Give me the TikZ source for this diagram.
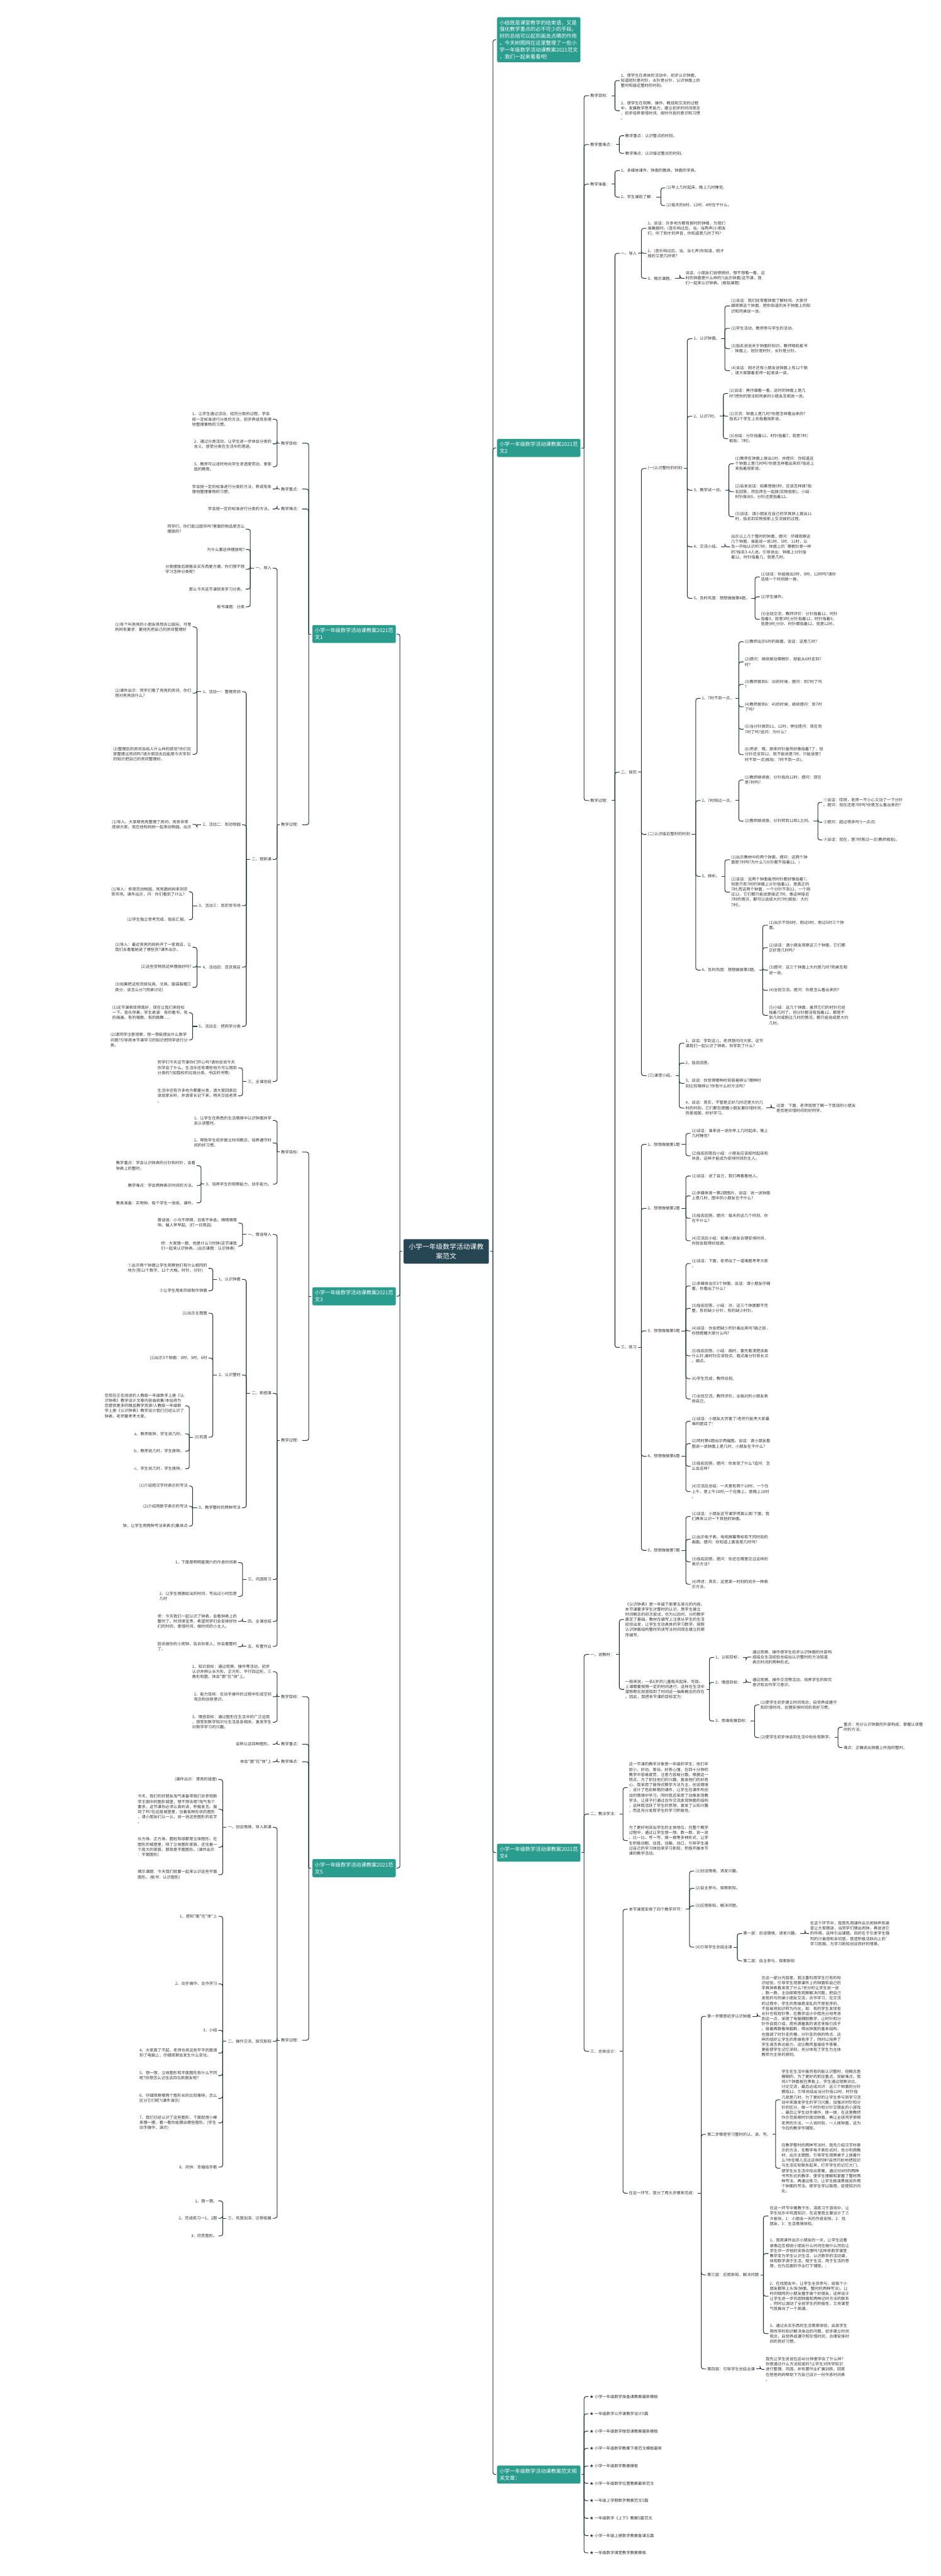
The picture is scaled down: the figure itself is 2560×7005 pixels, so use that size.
\documentclass[tikz,border=0pt]{standalone}
\usepackage{fontspec}
\newfontfamily\cjk{Noto Sans CJK SC}
\definecolor{tealc}{HTML}{2A9D8F}
\definecolor{rootc}{HTML}{264653}
\definecolor{linec}{HTML}{1F3844}
\definecolor{txtc}{HTML}{333333}
\tikzset{
 conn/.style={draw=linec,line width=1.8pt},
 txt/.style={font=\cjk\fontsize{10.8}{14}\selectfont,text=txtc,align=left,inner sep=1pt},
 rt/.style={txt,anchor=west},
 lt/.style={txt,anchor=east},
 tbox/.style={fill=tealc,text=white,rounded corners=3pt,font=\cjk\fontsize{14}{18.5}\selectfont,align=left,text width=213pt,inner xsep=7pt,inner ysep=5pt,minimum height=49pt},
 rootbox/.style={fill=rootc,text=white,rounded corners=3pt,font=\cjk\fontsize{18.5}{25}\selectfont,align=center,minimum width=232pt,minimum height=67pt,inner sep=4pt}
}
\newcommand\Rto[3]{%
 \draw[conn] ([xshift=3pt]#1.east) -- (#1.east -| #2,0);
 \foreach \c in {#3}{\draw[conn,rounded corners=6pt] (#1.east -| #2,0) |- ([xshift=-2pt]\c.west);}}
\newcommand\Lto[3]{%
 \draw[conn] ([xshift=-3pt]#1.west) -- (#1.west -| #2,0);
 \foreach \c in {#3}{\draw[conn,rounded corners=6pt] (#1.west -| #2,0) |- ([xshift=2pt]\c.east);}}
\begin{document}
\begin{tikzpicture}[x=1pt,y=-1pt]
\fill[white] (0,0) rectangle (2560,7005);
\useasboundingbox (0,0) rectangle (2560,7005);
% ---------- root and main branches
\node[rootbox] (root) at (1214,3403) {小学一年级数学活动课教\\案范文};
\node[tbox,anchor=west,minimum height=122pt] (R0) at (1352,108) {小结既是课堂教学的结束语，又是\\强化教学重点的必不可少的手段。\\好的总结可以起到画龙点睛的作用\\。今天树图网在这里整理了一些小\\学一年级数学活动课教案2021范文\\，我们一起来看看吧!};
\node[tbox,anchor=west] (A) at (1352,1218) {小学一年级数学活动课教案2021范\\文2};
\node[tbox,anchor=west] (B) at (1352,5038) {小学一年级数学活动课教案2021范\\文4};
\node[tbox,anchor=west] (C) at (1352,6729) {小学一年级数学活动课教案范文相\\关文章：};
\node[tbox,anchor=east] (L1) at (1077,1724) {小学一年级数学活动课教案2021范\\文1};
\node[tbox,anchor=east] (L3) at (1077,3525) {小学一年级数学活动课教案2021范\\文3};
\node[tbox,anchor=east] (L5) at (1077,5080) {小学一年级数学活动课教案2021范\\文5};
\Rto{root}{1341}{R0,A,B,C}
\Lto{root}{1088}{L1,L3,L5}
% ---------- 范文2
\node[rt] (A1) at (1605,260) {教学目标：};
\node[rt] (A2) at (1605,393) {教学重难点：};
\node[rt] (A3) at (1605,501) {教学准备：};
\node[rt] (A4) at (1605,2177) {教学过程：};
\Rto{A}{1589}{A1,A2,A3,A4}
\node[rt] (A1a) at (1688,219) {1、使学生在具体的活动中，初步认识钟面，\\知道短针是时针，长针是分针，认识钟面上的\\整时和接近整时的时刻。};
\node[rt] (A1b) at (1688,301) {2、使学生在观察、操作、概括和交流的过程\\中，发展数学思考能力，建立初步的时间观念\\，初步培养爱惜时间、按时作息的意识和习惯\\。};
\Rto{A1}{1673}{A1a,A1b}
\node[rt] (A2a) at (1700,369) {教学重点：认识整点的时刻。};
\node[rt] (A2b) at (1700,417) {教学难点：认识接近整点的时刻。};
\Rto{A2}{1685}{A2a,A2b}
\node[rt] (A3a) at (1688,464) {1、多媒体课件，钟面的教具，钟面的学具。};
\node[rt] (A3b) at (1688,536) {2、学生课前了解：};
\Rto{A3}{1673}{A3a,A3b}
\node[rt] (A3b1) at (1812,511) {(1)早上几时起床，晚上几时睡觉。};
\node[rt] (A3b2) at (1812,559) {(2)每天的8时、12时、4时在干什么。};
\Rto{A3b}{1798}{A3b1,A3b2}
\node[rt] (P1) at (1688,689) {一、导入};
\node[rt] (P2) at (1688,2100) {二、探究};
\node[rt] (P3) at (1688,3664) {三、练习};
\Rto{A4}{1673}{P1,P2,P3}
\node[rt] (P1a) at (1761,621) {1、谈话：许多地方都有报时的钟楼，为我们\\准确报时。(音乐响过后，当、当两声)小朋友\\们，听了刚才的声音，你知道是几时了吗?};
\node[rt] (P1b) at (1761,689) {2、(音乐响过后，当、当七声)你知道，刚才\\报的又是几时呢?};
\node[rt] (P1c) at (1761,757) {3、揭示课题。};
\Rto{P1}{1745}{P1a,P1b,P1c}
\node[rt] (P1c1) at (1864,757) {谈话：小朋友们说得很好。想不想看一看，这\\时的钟面是什么样的?(出示钟面)这节课，我\\们一起来认识钟表。(板贴课题)};
\Rto{P1c}{1850}{P1c1}
\node[rt] (Q1) at (1761,1274) {(一)认识整时的时刻};
\node[rt] (Q2) at (1761,2269) {(二)认识接近整时的时刻};
\node[rt] (Q3) at (1761,2925) {(三)课堂小结。};
\Rto{P2}{1745}{Q1,Q2,Q3}
\node[rt] (Q1a) at (1886,921) {1、认识钟面。};
\node[rt] (Q1b) at (1886,1132) {2、认识7时。};
\node[rt] (Q1c) at (1886,1333) {3、教学试一试。};
\node[rt] (Q1d) at (1886,1487) {4、交流小结。};
\node[rt] (Q1e) at (1886,1627) {5、及时巩固：想想做做第4题。};
\Rto{Q1}{1870}{Q1a,Q1b,Q1c,Q1d,Q1e}
\node[rt] (Q1a1) at (1988,832) {(1)谈话：我们经常看钟面了解时间。大家仔\\细观察这个钟面，把你知道的关于钟面上的知\\识和同桌说一说。};
\node[rt] (Q1a2) at (1988,893) {(2)学生活动，教师参与学生的活动。};
\node[rt] (Q1a3) at (1988,948) {(3)指名说说关于钟面的知识。教师相机板书\\：钟面上，短针是时针，长针是分针。};
\node[rt] (Q1a4) at (1988,1008) {(4)谈话：刚才还有小朋友说钟面上有12个数\\，请大家跟着老师一起来读一读。};
\Rto{Q1a}{1972}{Q1a1,Q1a2,Q1a3,Q1a4}
\node[rt] (Q1b1) at (1983,1070) {(1)谈话：再仔细看一看，这时的钟面上是几\\时?把你的想法和同桌的小朋友互相说一说。};
\node[rt] (Q1b2) at (1983,1132) {(2)交流：钟面上是几时?你是怎样看出来的?\\指名2个学生上去指着投影说。};
\node[rt] (Q1b3) at (1983,1193) {(3)总结：分针指着12，时针指着7，就是7时(\\板贴：7时)。};
\Rto{Q1b}{1968}{Q1b1,Q1b2,Q1b3}
\node[rt] (Q1c1) at (1999,1261) {(1)教师在钟面上拨出1时，并提问：你知道这\\个钟面上是几时吗?你是怎样看出来的?指名上\\来指着投影说。};
\node[rt] (Q1c2) at (1999,1337) {(2)启发谈话：如果想拨5时，应该怎样拨?指\\名回答。然后师生一起拨(实物投影)。小结：\\时针拨向5，分针还是指着12。};
\node[rt] (Q1c3) at (1999,1405) {(3)谈话：请小朋友在自己的学具钟上拨出11\\时，指名到实物投影上交流拨的过程。};
\Rto{Q1c}{1983}{Q1c1,Q1c2,Q1c3}
\node[rt] (Q1d1) at (1988,1487) {出示以上几个整时的钟面，提问：仔细观察这\\几个钟面，谁能说一说1时、5时、11时，以\\及一开始认识的7时，钟面上的\symbol{96}哪根针是一样\\的?指名3-4人说。引导说出：钟面上分针指\\着12，时针指着几，就是几时。};
\Rto{Q1d}{1972}{Q1d1}
\node[rt] (Q1e1) at (2069,1569) {(1)谈话：你能拨出3时、9时、12时吗?请你\\选择一个时刻拨一拨。};
\node[rt] (Q1e2) at (2069,1623) {(2)学生操作。};
\node[rt] (Q1e3) at (2069,1684) {(3)全班交流，教师评价：分针指着12，时针\\指着3，就是3时;分针指着12，时针指着9，\\就是9时;分针、时针都指着12，就是12时。};
\Rto{Q1e}{2054}{Q1e1,Q1e2,Q1e3}
\node[rt] (Q2a) at (1908,1899) {1、7时不到一点。};
\node[rt] (Q2b) at (1908,2177) {2、7时刚过一点。};
\node[rt] (Q2c) at (1908,2383) {3、辨析。};
\node[rt] (Q2d) at (1908,2638) {4、及时巩固：想想做做第3题。};
\Rto{Q2}{1893}{Q2a,Q2b,Q2c,Q2d}
\node[rt] (Q2a1) at (2025,1745) {(1)教师出示6时的画面。谈话：这是几时?};
\node[rt] (Q2a2) at (2025,1800) {(2)提问：继续拨动哪根针，就能从6时走到7\\时?};
\node[rt] (Q2a3) at (2025,1861) {(3)教师拨到6：30的时候，提问：到7时了吗\\?};
\node[rt] (Q2a4) at (2025,1922) {(4)教师拨到6：45的时候，继续提问：到7时\\了吗?};
\node[rt] (Q2a5) at (2025,1983) {(5)当分针拨到11、12时，停住提问：现在到\\7时了吗?追问：为什么?};
\node[rt] (Q2a6) at (2025,2052) {(6)师述：哦，原来时针虽然好像指着7了，但\\分针还没到12，就不能说是7时，只能说是7\\时不到一点(板贴：7时不到一点)。};
\Rto{Q2a}{2010}{Q2a1,Q2a2,Q2a3,Q2a4,Q2a5,Q2a6}
\node[rt] (Q2b1) at (2025,2121) {(1)教师继续拨，分针指向12时，提问：现在\\是7时吗?};
\node[rt] (Q2b2) at (2025,2233) {(2)教师继续拨，分针转到12和1之间。};
\Rto{Q2b}{2010}{Q2b1,Q2b2}
\node[rt] (Q2b2a) at (2239,2182) {①谈话：哎呀，老师一不小心又动了一下分针\\。提问：现在还是7时吗?你是怎么看出来的?};
\node[rt] (Q2b2b) at (2239,2236) {②提问：超过得多吗?(一点点)};
\node[rt] (Q2b2c) at (2239,2284) {③谈话：现在，是7时刚过一点(教师板贴)。};
\Rto{Q2b2}{2225}{Q2b2a,Q2b2b,Q2b2c}
\node[rt] (Q2c1) at (1988,2338) {(1)出示教材中的两个钟面，提问：这两个钟\\面是7时吗?为什么?(分针都不指着12。)};
\node[rt] (Q2c2) at (1988,2426) {(2)谈话：这两个钟面虽然时针都好像指着7，\\但是只有7时的钟面上分针指着12，是真正的\\7时;而这两个钟面，一个分针不到12，一个刚\\过12，它们都只能说是接近7时。像这样接近\\7时的情况，都可以说成大约7时(板贴：大约\\7时)。};
\Rto{Q2c}{1972}{Q2c1,Q2c2}
\node[rt] (Q2d1) at (2091,2516) {(1)出示不到8时、刚过9时、刚过5时三个钟\\面。};
\node[rt] (Q2d2) at (2091,2577) {(2)谈话：请小朋友观察这三个钟面，它们都\\正好是几时吗?};
\node[rt] (Q2d3) at (2091,2638) {(3)提问：这三个钟面上大约是几时?同桌互相\\说一说。};
\node[rt] (Q2d4) at (2091,2693) {(4)全班交流。提问：你是怎么看出来的?};
\node[rt] (Q2d5) at (2091,2761) {(5)小结：这几个钟面，虽然它们的时针已经\\指着几时了，但分针都没有指着12，都是不\\到几时或刚过几时的情况，都只能说成是大约\\几时。};
\Rto{Q2d}{2075}{Q2d1,Q2d2,Q2d3,Q2d4,Q2d5}
\node[rt] (Q3a) at (1864,2837) {1、谈话：学到这儿，老师想问问大家，这节\\课我们一起认识了钟表。你学到了什么?};
\node[rt] (Q3b) at (1864,2891) {2、指名回答。};
\node[rt] (Q3c) at (1864,2946) {3、谈话：你觉得哪种时刻容易辨认?哪种时\\刻比较难辨认?你有什么好方法吗?};
\node[rt] (Q3d) at (1864,3013) {4、谈话：其实，不管是正好几时还是大约几\\时的时刻，它们都在提醒小朋友要珍惜时间，\\热爱祖国，好好学习。};
\Rto{Q3}{1848}{Q3a,Q3b,Q3c,Q3d}
\node[rt] (Q3d1) at (2111,3013) {过渡：下面，老师就想了解一下我班的小朋友\\是否是珍惜时间的好同学。};
\Rto{Q3d}{2098}{Q3d1}
\node[rt] (S1) at (1761,3112) {1、想想做做第1题};
\node[rt] (S2) at (1761,3286) {2、想想做做第2题};
\node[rt] (S3) at (1761,3619) {3、想想做做第5题};
\node[rt] (S4) at (1761,3960) {4、想想做做第6题};
\node[rt] (S5) at (1761,4216) {5、想想做做第7题};
\Rto{P3}{1745}{S1,S2,S3,S4,S5}
\node[rt] (S1a) at (1881,3082) {(1)谈话：谁来说一说你早上几时起床，晚上\\几时睡觉?};
\node[rt] (S1b) at (1881,3143) {(2)指名回答后小结：小朋友应该按时起床和\\休息，这样才能成为安排时间的主人。};
\Rto{S1}{1866}{S1a,S1b}
\node[rt] (S2a) at (1881,3198) {(1)谈话：说了自己，我们再看看他人。};
\node[rt] (S2b) at (1881,3252) {(2)多媒体逐一第2题图片。谈话：说一说钟面\\上是几时，图中的小朋友在干什么?};
\node[rt] (S2c) at (1881,3313) {(3)指名回答。提问：每天的这几个时刻，你\\在干什么?};
\node[rt] (S2d) at (1881,3374) {(4)交流后小结：如果小朋友合理安排时间，\\你就会取得好成绩。};
\Rto{S2}{1866}{S2a,S2b,S2c,S2d}
\node[rt] (S3a) at (1881,3436) {(1)谈话：下面，老师出了一道难题考考大家\\。};
\node[rt] (S3b) at (1881,3497) {(2)多媒体出示3个钟面。谈话：请小朋友仔细\\看，你看出了什么?};
\node[rt] (S3c) at (1881,3558) {(3)指名回答。小结：对，这三个钟面都不完\\整，有的缺少分针，有的缺少时针。};
\node[rt] (S3d) at (1881,3619) {(4)谈话：你会把缺少的针画出来吗?画之前，\\你想提醒大家什么吗?};
\node[rt] (S3e) at (1881,3687) {(5)指名回答。小结：画时，要先看清楚该画\\什么针;画时针应该短点、粗点画分针就长点\\、细点。};
\node[rt] (S3f) at (1881,3749) {(6)学生完成，教师巡视。};
\node[rt] (S3g) at (1881,3804) {(7)全班交流，教师评价，全画对的小朋友表\\扬自己。};
\Rto{S3}{1866}{S3a,S3b,S3c,S3d,S3e,S3f,S3g}
\node[rt] (S4a) at (1881,3865) {(1)谈话：小朋友太厉害了!老师只能考大家最\\难的题目了!};
\node[rt] (S4b) at (1881,3926) {(2)同时第6题出示两幅图。谈话：请小朋友看\\图说一说钟面上是几时，小朋友在干什么?};
\node[rt] (S4c) at (1881,3987) {(3)指名回答。提问：你发现了什么?追问：怎\\么会这样?};
\node[rt] (S4d) at (1881,4056) {(4)交流后总结：一天里有两个10时，一个在\\上午，是上午10时;一个在晚上，是晚上10时\\。};
\Rto{S4}{1866}{S4a,S4b,S4c,S4d}
\node[rt] (S5a) at (1881,4124) {(1)谈话：小朋友这节课学得真认真!下面，我\\们再来认识一下其他的钟面。};
\node[rt] (S5b) at (1881,4186) {(2)出示电子表、电视屏幕等标有不同时刻的\\画面。提问：你知道上面各是几时吗?};
\node[rt] (S5c) at (1881,4247) {(3)指名回答。提问：你还在哪里见过这样的\\表示方法?};
\node[rt] (S5d) at (1881,4308) {(4)师述：其实，这是某一时刻的另外一种表\\示方法。};
\Rto{S5}{1866}{S5a,S5b,S5c,S5d}
% ---------- 范文4
\node[rt] (B1) at (1605,4499) {一、说教材：};
\node[rt] (B2) at (1605,4933) {二、教法学法：};
\node[rt] (B3) at (1605,5578) {三、总体设计：};
\Rto{B}{1589}{B1,B2,B3}
\node[rt] (B1a) at (1700,4404) {《认识钟表》是一年级下册第五单元的内容。\\本节课要求学生对整时的认识，是学生建立\\时间概念的初次尝试，也为以后时、分的教学\\奠定了基础。教材在编写上注意从学生的生活\\经验出发，让学生生动具体的学习数学。按照\\认识钟面结构整时的读写法时间观念建立的顺\\序编写。};
\node[rt] (B1b) at (1700,4594) {一般来说，一名6岁的儿童每天起床、吃饭、\\上课都要按照一定的时间进行，这样在生活中\\潜移默化就感知到了时间这一抽象概念的存在\\。因此，我把本节课的目标定为：};
\Rto{B1}{1685}{B1a,B1b}
\node[rt] (B1b1) at (1945,4507) {1、认知目标：};
\node[rt] (B1b2) at (1945,4575) {2、情感目标：};
\node[rt] (B1b3) at (1945,4680) {3、思维拓展目标：};
\Rto{B1b}{1930}{B1b1,B1b2,B1b3}
\node[rt] (B1b1a) at (2046,4506) {通过观察、操作使学生初步认识钟面的外部构\\成结合生活经验总结出认识整时的方法知道\\表示时间的两种形式。};
\Rto{B1b1}{2030}{B1b1a}
\node[rt] (B1b2a) at (2046,4575) {通过观察、操作交流等活动，培养学生的探究\\意识和合作学习意识。};
\Rto{B1b2}{2030}{B1b2a}
\node[rt] (B1b3a) at (2068,4636) {(1)使学生初步建立时间观念，自觉养成遵守\\和珍惜时间、合理安排时间的良好习惯。};
\node[rt] (B1b3b) at (2068,4725) {(2)使学生初步体会到生活中处处有数学。};
\Rto{B1b3}{2053}{B1b3a,B1b3b}
\node[rt] (B1b3b1) at (2294,4697) {重点：充分认识钟面的外部构成，掌握认读整\\时的方法;};
\node[rt] (B1b3b2) at (2294,4752) {难点：正确说出钟面上所指的整时。};
\Rto{B1b3b}{2280}{B1b3b1,B1b3b2}
\node[rt] (B2a) at (1710,4861) {这一节课的教学对象是一年级的学生，他们年\\龄小、好动、爱玩、好奇心强，在四十分钟的\\教学中容易疲劳，注意力容易分散。根据这一\\特点，为了抓住他们的兴趣，激发他们的好奇\\心，我采用了愉快式教学方法为主，创设情境\\，设计了色彩鲜艳的课件，让学生在课件所创\\设的情境中学习。同时我还采用了动像发现教\\学法，让孩子们通过合作交流发现钟面的结构\\，这样既活跃了学生的思想，激发了认知兴趣\\，而且充分发挥学生的学习积极性。};
\node[rt] (B2b) at (1710,5005) {为了更好地突出学生的主体地位，在整个教学\\过程中，通过让学生想一想、数一数、说一说\\、比一比、写一写、拨一拨等多种形式，让学\\生积极动眼、动耳、动脑、动口，引导学生通\\过自己的学习体验来学习新知，积极开展本节\\课的教学活动。};
\Rto{B2}{1695}{B2a,B2b}
\node[rt] (B3a) at (1710,5192) {本节课我安排了四个教学环节：};
\node[rt] (B3b) at (1710,5964) {在这一环节，我分了两大步骤来完成：};
\Rto{B3}{1695}{B3a,B3b}
\node[rt] (B3a1) at (1891,5088) {(1)创设情境，诱发兴趣。};
\node[rt] (B3a2) at (1891,5135) {(2)自主参与，探索新知。};
\node[rt] (B3a3) at (1891,5183) {(3)应用新知，解决问题。};
\node[rt] (B3a4) at (1891,5295) {(4)引导学生总结全课};
\Rto{B3a}{1876}{B3a1,B3a2,B3a3,B3a4}
\node[rt] (B3a4a) at (2021,5258) {第一层：创设情境，诱发兴趣。};
\node[rt] (B3a4b) at (2021,5332) {第二层：自主参与，探索新知};
\Rto{B3a4}{2006}{B3a4a,B3a4b}
\node[rt] (B3a4a1) at (2203,5258) {在这个环节中，我首先用课件出示闹钟声和录\\音让大家猜谜，当同学们猜出闹钟，再说说它\\的作用。这样引出课题。目的在于引发学生强\\烈的兴奋感和亲切感，营造积极活跃向上的\symbol{96}\\学习氛围，为学习新知创设良好的情景。};
\Rto{B3a4a}{2190}{B3a4a1}
\node[rt] (B3b1) at (1923,5483) {第一步骤是初步认识钟面};
\node[rt] (B3b2) at (1923,5804) {第二步骤是学习整时的认、读、写。};
\node[rt] (B3b3) at (1923,6186) {第三层：应用新知，解决问题};
\node[rt] (B3b4) at (1923,6442) {第四层：引导学生总结全课};
\Rto{B3b}{1908}{B3b1,B3b2,B3b3,B3b4}
\node[rt] (B3b1a) at (2071,5483) {在这一部分内容里，我注重利用学生已有的知\\识经验，引导学生观察课件上的钟面和自己的\\学具钟表看发现了什么?充分的让学生说一说\\，数一数，主动探索性观察解决问题，把自己\\发现的与同桌小朋友交流，合作学习，在交流\\的过程中，学生的思维是凌乱的不是有序的，\\不容易将知识转为内化，如：有的学生发现有\\长针也有短针等，在教学设计中我充分地考虑\\到这一点，采用了电脑辅助教学，让时针和分\\针作自我介绍，用充满童真的语言来吸引孩子\\。接着再跟着电脑数，得出钟面的基本结构，\\也强调了时针走的慢，分针走的快的特点，这\\样的组织让学生的思维有序了，同时以培养了\\学生语言表达能力，这比教师直接给予答案，\\更能使学生记忆深刻，充分体现了学生为主体\\教师为主导的原则。};
\Rto{B3b1}{2060}{B3b1a}
\node[rt] (B3b2a) at (2125,5710) {学生在生活中虽然有的能认识整时，但概念是\\模糊的，为了更好的抓住重点，突破难点，我\\将3个钟面板在黑板上，学生通过观察对比、\\讨论交流，最后达成共识：这三个钟面的分针\\都指12，引导总结出当分针指12时，时针指\\几就是几时。为了更好的让学生参与到学习活\\动中来激发学生的学习兴趣，加强对时针和分\\针的区分，做一个时针和分针交朋友的小游戏\\。最后让学生动手操作，拨一拨，在这里教师\\作示范按顺时针拨动钟面，再让全班同学参照\\老师的方法，一人说时刻，一人拨钟面，这为\\今后的教学作铺垫。};
\node[rt] (B3b2b) at (2125,5896) {在教学整时的两种写法时，我先介绍汉字时表\\示的方法，在教学电子表形式时，充分利用教\\材，出示主题图，引导学生观察桌子上放着什\\么?你在哪儿见过这样的钟?自然巧妙地把知识\\与生活实际联系起来，打开学生的记忆大门，\\使学生从生活中找出答案，通过对8时的两种\\书写形式的教学，使学生理解和掌握了整时两\\种写法，再通过练习，让学生板演黑板另外两\\个钟面的写法。使学生学以致用，促使知识内\\化。};
\Rto{B3b2}{2110}{B3b2a,B3b2b}
\node[rt] (B3b3a) at (2093,6026) {在这一环节中寓教于乐，溶练习于游戏中，让\\学生玩乐中巩固知识，在这里我主要设计了三\\大板块，1：小朋友一天的作息安排。2：找\\朋友，3：生活情境体验。};
\node[rt] (B3b3b) at (2093,6128) {1、我用课件出示小朋友的一天，让学生边看\\录像边互相说小朋友什么时间在做什么然后让\\学生评一评他的安排合理吗?这样将数学课堂\\教学变为学生认识生活，认识数学的活动课，\\体现数学源于生活，赋于生活，用于生活的思\\想，也为后面的作业打下铺垫。;};
\node[rt] (B3b3c) at (2093,6244) {2、在找朋友中，让学生全员参与，给每个小\\朋友都带上头饰(钟面、整时的两种写法)，让\\时间相同的小朋友握手做个好朋友。这样设计\\让学生进一步巩固钟面和两种记时方法的联系\\，同时以调动了全班学生的积极性，又将课堂\\气氛推向了一个高潮。};
\node[rt] (B3b3d) at (2093,6346) {3、通过去买东西的生活情景体验，启发学生\\用所学的知识解决身边的问题，初步建立时间\\观念，自觉养成遵守和珍惜时间，合理安排时\\间的良好习惯。};
\Rto{B3b3}{2077}{B3b3a,B3b3b,B3b3c,B3b3d}
\node[rt] (B3b4a) at (2082,6443) {我先让学生说说在这40分钟里学会了什么样?\\你是通过什么方法知道的?让学生对所学知识\\进行整理、巩固，并布置作业扩展训练，回家\\在爸爸妈妈帮助下为自己设计一份作息时间表\\。};
\Rto{B3b4}{2068}{B3b4a}
% ---------- related
\node[rt] (C1) at (1603,6517) {★ 小学一年级数学准备课教案最新模板};
\node[rt] (C2) at (1603,6564) {★ 一年级数学公开课教学设计5篇};
\node[rt] (C3) at (1603,6611) {★ 小学一年级数学微型课教案最新模板};
\node[rt] (C4) at (1603,6658) {★ 小学一年级数学教案下册范文模板最新};
\node[rt] (C5) at (1603,6706) {★ 小学一年级数学教案模板};
\node[rt] (C6) at (1603,6753) {★ 小学一年级数学位置教案最新范文};
\node[rt] (C7) at (1603,6800) {★ 一年级上学期数学教案范文5篇};
\node[rt] (C8) at (1603,6848) {★ 一年级数学《上下》教案5篇范文};
\node[rt] (C9) at (1603,6895) {★ 小学一年级上册数学教案备课五篇};
\node[rt] (C10) at (1603,6942) {★ 一年级数学课堂教学教案模板};
\Rto{C}{1589}{C1,C2,C3,C4,C5,C6,C7,C8,C9,C10}
% ---------- 范文1
\node[lt] (L1a) at (820,1205) {教学目标：};
\node[lt] (L1b) at (820,1330) {教学重点：};
\node[lt] (L1c) at (820,1384) {教学难点：};
\node[lt] (L1d) at (820,2243) {教学过程：};
\Lto{L1}{840}{L1a,L1b,L1c,L1d}
\node[lt] (L1a1) at (740,1140) {1、让学生通过活动，经历分类的过程，学会\\按一定标准进行分类的方法，初步养成有条理\\地整理事物的习惯。};
\node[lt] (L1a2) at (740,1207) {2、通过分类活动，让学生进一步体会分类的\\含义，感受分类在生活中的用途。};
\node[lt] (L1a3) at (740,1269) {3、教师可以适时地向学生渗透爱劳动、爱家\\庭的教育。};
\Lto{L1a}{754}{L1a1,L1a2,L1a3}
\node[lt] (L1b1) at (740,1330) {学会按一定的标准进行分类的方法，养成有条\\理地整理事物的习惯。};
\Lto{L1b}{754}{L1b1}
\node[lt] (L1c1) at (740,1384) {学会按一定的标准进行分类的方法。};
\Lto{L1c}{754}{L1c1}
\node[lt] (M1) at (740,1545) {一、导入};
\node[lt] (M2) at (740,2337) {二、授新课};
\node[lt] (M3) at (740,2941) {三、全课总结};
\Lto{L1d}{754}{M1,M2,M3}
\node[lt] (M1a) at (667,1439) {同学们，你们逛过超市吗?里面的物品是怎么\\摆放的?};
\node[lt] (M1b) at (667,1494) {为什么要这样摆放呢?};
\node[lt] (M1c) at (667,1548) {分类摆放后顾客去买东西更方便。你们想不想\\学习怎样分类呢?};
\node[lt] (M1d) at (667,1602) {那么今天这节课就来学习分类。};
\node[lt] (M1e) at (667,1650) {板书课题：分类};
\Lto{M1}{681}{M1a,M1b,M1c,M1d,M1e}
\node[lt] (M2a) at (656,1881) {1、活动一：整理房间};
\node[lt] (M2b) at (656,2243) {2、活动二：到动物园};
\node[lt] (M2c) at (656,2463) {3、活动三：到农贸市场};
\node[lt] (M2d) at (656,2630) {4、活动四：百货商店};
\node[lt] (M2e) at (656,2791) {5、活动五：把同学分类};
\Lto{M2}{670}{M2a,M2b,M2c,M2d,M2e}
\node[lt] (M2a1) at (522,1705) {(1)有个叫亮亮的小朋友很想去公园玩，可是\\妈妈有要求：要他先把自己的房间整理好};
\node[lt] (M2a2) at (522,1885) {(2)课件出示：同学们看了亮亮的房间，你们\\想对亮亮说什么?};
\node[lt] (M2a3) at (522,2051) {(3)整理后的房间会给人什么样的感觉?你们在\\家整理过房间吗?请大家回去后能用今天学到\\的知识把自己的房间整理好。};
\Lto{M2a}{536}{M2a1,M2a2,M2a3}
\node[lt] (M2b1) at (522,2242) {(1)导入。大家帮亮亮整理了房间，亮亮非常\\感谢大家，现在他和妈妈一起来动物园。出示};
\Lto{M2b}{536}{M2b1}
\node[lt] (M2c1) at (512,2425) {(1)导入：参观完动物园，亮亮跟妈妈来到农\\贸市场。课件出示，问：你们看到了什么?};
\node[lt] (M2c2) at (512,2501) {(2)学生独立思考完成，指名汇报。};
\Lto{M2c}{524}{M2c1,M2c2}
\node[lt] (M2d1) at (522,2576) {(1)导入：最近亮亮的妈妈开了一家商店，让\\我们去看看她进了哪些货?课件出示。};
\node[lt] (M2d2) at (522,2630) {(2)这些货物就这样摆放好吗?};
\node[lt] (M2d3) at (522,2685) {(3)如果把这些货按玩具、文具、服装鞋帽三\\类分，该怎么分?(同桌讨论)};
\Lto{M2d}{536}{M2d1,M2d2,M2d3}
\node[lt] (M2e1) at (512,2754) {(1)这节课表现得真好，现在让我们来轻松\\一下。音乐伴奏，学生表演：有的看书、有\\的画画、有的唱歌、有的跳舞......};
\node[lt] (M2e2) at (512,2828) {(2)请同学注意观察，想一想能提出什么数学\\问题?引导用本节课学习的知识把同学进行分\\类。};
\Lto{M2e}{524}{M2e1,M2e2}
\node[lt] (M3a) at (646,2904) {同学们今天这节课你们开心吗?请你说说今天\\你学会了什么。生活中还有哪些地方可以用到\\分类的?(如我校的垃圾分类、书店的书等)};
\node[lt] (M3b) at (646,2980) {生活中还有许多地方都要分类，请大家回家后\\说给家长听，并请家长记下来，明天交给老师\\。};
\Lto{M3}{660}{M3a,M3b}
% ---------- 范文3
\node[lt] (N1) at (820,3133) {教学目标：};
\node[lt] (N2) at (820,3917) {教学过程：};
\Lto{L3}{840}{N1,N2}
\node[lt] (N1a) at (740,3047) {1、让学生在熟悉的生活情境中认识钟面并学\\会认读整时。};
\node[lt] (N1b) at (740,3108) {2、帮助学生初步建立时间概念，培养遵守时\\间的好习惯。};
\node[lt] (N1c) at (740,3220) {3、培养学生的观察能力，动手能力。};
\Lto{N1}{754}{N1a,N1b,N1c}
\node[lt] (N1c1) at (533,3170) {教学重点：学会认识钟表的分针和时针，会看\\钟表上的整时。};
\node[lt] (N1c2) at (533,3224) {教学难点：学会两种表示时间的方法。};
\node[lt] (N1c3) at (533,3271) {教具准备：实物钟、每个学生一张纸、课件。};
\Lto{N1c}{547}{N1c1,N1c2,N1c3}
\node[lt] (O1) at (740,3357) {一、猜谜导入};
\node[lt] (O2) at (740,3789) {二、新授课};
\node[lt] (O3) at (740,4295) {三、巩固练习};
\node[lt] (O4) at (740,4409) {四、全课总结};
\node[lt] (O5) at (740,4477) {五、布置作业};
\Lto{N2}{754}{O1,O2,O3,O4,O5}
\node[lt] (O1a) at (646,3326) {猜谜语：小马不停蹄，日夜不休息。嘀嗒嘀嗒\\响，催人早早起。(打一日用品)};
\node[lt] (O1b) at (646,3388) {师：大家猜一猜，他是什么?(时钟)这节课我\\们一起来认识钟表。(出示课题：认识钟表)};
\Lto{O1}{660}{O1a,O1b}
\node[lt] (O2a) at (656,3479) {1、认识钟面};
\node[lt] (O2b) at (656,3739) {2、认识整时};
\node[lt] (O2c) at (656,4100) {3、教学整时的两种写法};
\Lto{O2}{670}{O2a,O2b,O2c}
\node[lt] (O2a1) at (565,3449) {①出示两个钟面让学生观察他们有什么相同的\\地方(有12个数字、12个大格、时针、分针)};
\node[lt] (O2a2) at (565,3510) {②让学生用发的纸制作钟面};
\Lto{O2a}{579}{O2a1,O2a2}
\node[lt] (O2b1) at (565,3571) {(1)出示主题图};
\node[lt] (O2b2) at (565,3693) {(2)出示3个钟面：8时、3时、6时};
\node[lt] (O2b3) at (565,3908) {(3)巩固};
\Lto{O2b}{579}{O2b1,O2b2,O2b3}
\node[lt] (O2b3a) at (502,3823) {您现在正在阅读的人教版一年级数学上册《认\\识钟表》教学设计文章内容由收集!本站将为\\您提供更多的精品教学资源!人教版一年级数\\学上册《认识钟表》教学设计我们已经认识了\\钟表，老师要考考大家。};
\node[lt] (O2b3b) at (502,3899) {a、教师拨钟，学生说几时。};
\node[lt] (O2b3c) at (502,3946) {b、教师说几时，学生拨钟。};
\node[lt] (O2b3d) at (502,3994) {c、学生说几时，学生拨钟。};
\Lto{O2b3}{515}{O2b3a,O2b3b,O2b3c,O2b3d}
\node[lt] (O2c1) at (512,4041) {(1)介绍用汉字时表示的写法};
\node[lt] (O2c2) at (512,4096) {(2)介绍用数字表示的写法};
\node[lt] (O2c3) at (512,4150) {钟，让学生用两种写法来表示(集体点};
\Lto{O2c}{524}{O2c1,O2c2,O2c3}
\node[lt] (O3a) at (646,4249) {1、下面是明明星期六的作息时间表};
\node[lt] (O3b) at (646,4341) {2、让学生根据给出的时间，写出过小时后是\\几时};
\Lto{O3}{660}{O3a,O3b}
\node[lt] (O4a) at (646,4409) {师：今天我们一起认识了钟表，会看钟表上的\\整时了。时间很宝贵，希望同学们会安排好你\\们的时间，爱惜时间，做时间的小主人。};
\Lto{O4}{660}{O4a}
\node[lt] (O5a) at (646,4478) {回去拨你的小闹钟，告诉你家人，你会看整时\\了。};
\Lto{O5}{660}{O5a}
% ---------- 范文5
\node[lt] (T1) at (820,4614) {教学目标：};
\node[lt] (T2) at (820,4743) {教学重点：};
\node[lt] (T3) at (820,4791) {教学难点：};
\node[lt] (T4) at (820,5548) {教学过程：};
\Lto{L5}{840}{T1,T2,T3,T4}
\node[lt] (T1a) at (740,4546) {1、知识目标：通过观察、操作等活动，初步\\认识并辨认长方形、正方形、平行四边形、三\\角形和圆，体会"面"在"体"上。};
\node[lt] (T1b) at (740,4614) {2、能力目标：在动手操作的过程中形成空间\\观念和创新意识。};
\node[lt] (T1c) at (740,4683) {3、情感目标：通过图形在生活中的广泛运用\\，感受到数学知识与生活息息相关，激发学生\\对数学学习的兴趣。};
\Lto{T1}{754}{T1a,T1b,T1c}
\node[lt] (T2a) at (740,4743) {会辨认这四种图形。};
\Lto{T2}{754}{T2a}
\node[lt] (T3a) at (740,4791) {体会"面"在"体"上};
\Lto{T3}{754}{T3a}
\node[lt] (U1) at (740,4969) {一、创设情境，导入新课};
\node[lt] (U2) at (740,5551) {二、操作交流，探究新知};
\node[lt] (U3) at (740,6032) {三、巩固加深，迁移拓展};
\Lto{T4}{754}{U1,U2,U3}
\node[lt] (U1a) at (592,4839) {(课件出示：漂亮的城堡)};
\node[lt] (U1b) at (592,4920) {今天，我们的好朋友淘气准备带我们去参观数\\学王国中的图形城堡，想不想去呢?淘气有个\\要求，这节课你必须认真听讲，积极发言。做\\到了吗?在这座城堡里，住着各种形状的图形\\，请小朋友们认一认，说一说这些图形的名字\\。};
\node[lt] (U1c) at (592,5023) {长方体、正方体、圆柱和球都是立体图形。在\\图形的城堡里，除了立体图形家族，还住着一\\个庞大的家族，那就是平面图形。(课件出示\\：平面图形)};
\node[lt] (U1d) at (592,5098) {揭示课题：今天我们就要一起来认识这些平面\\图形。(板书：认识图形)};
\Lto{U1}{606}{U1a,U1b,U1c,U1d}
\node[lt] (U2a) at (592,5211) {1、感知"面"在"体"上};
\node[lt] (U2b) at (592,5395) {2、动手操作，合作学习};
\node[lt] (U2c) at (592,5521) {3、小结};
\node[lt] (U2d) at (592,5583) {4、大家真了不起，老师也将这些平平的面请\\到了电脑上，仔细观察会发生什么变化。};
\node[lt] (U2e) at (592,5644) {5、想一想，立体图形和平面图形有什么不同\\呢?你想怎么记住这四位新朋友呢?};
\node[lt] (U2f) at (592,5706) {6、仔细观察哪两个图形长的比较像呀。怎么\\区分它们呢?(课件演示)};
\node[lt] (U2g) at (592,5773) {7、我们已经认识了这些图形，下面就用小棒\\来摆一摆，看一看你能摆出哪些图形。(学生\\动手操作，演示)};
\node[lt] (U2h) at (592,5893) {8、间休：幸福拍手歌};
\Lto{U2}{606}{U2a,U2b,U2c,U2d,U2e,U2f,U2g,U2h}
\node[lt] (U3a) at (592,5985) {1、猜一猜。};
\node[lt] (U3b) at (592,6032) {2、完成练习一1、2题};
\node[lt] (U3c) at (592,6080) {3、欣赏图形。};
\Lto{U3}{606}{U3a,U3b,U3c}
\end{tikzpicture}
\end{document}
